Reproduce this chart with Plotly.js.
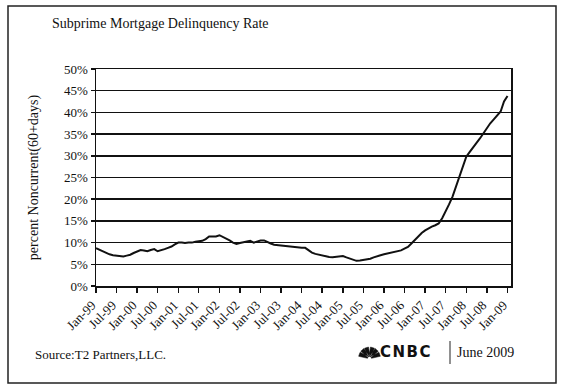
<!DOCTYPE html>
<html>
<head>
<meta charset="utf-8">
<script src="https://cdn.plot.ly/plotly-3.0.1.min.js"></script>
<style>
html,body{margin:0;padding:0;background:#fff;}
#chart{width:566px;height:391px;}
</style>
</head>
<body>
<div id="chart"></div>
<script>
// Monthly subprime delinquency rate (%), Jan-1999 .. Jan-2009
const startYear = 1999;
const rateValues = [
 8.7, 8.3, 7.9, 7.6, 7.3, 7.1, 7.0, 6.9, 6.8, 7.0, 7.2, 7.6,
 8.0, 8.3, 8.2, 8.0, 8.3, 8.5, 8.0, 8.2, 8.5, 8.8, 9.1, 9.6,
 10.0, 10.0, 9.9, 10.0, 10.0, 10.2, 10.3, 10.4, 10.8, 11.4, 11.4, 11.4,
 11.7, 11.3, 11.0, 10.5, 10.0, 9.7, 9.9, 10.1, 10.3, 10.4, 10.0, 10.2,
 10.5, 10.5, 10.1, 9.8, 9.5, 9.4, 9.3, 9.2, 9.1, 9.0, 8.9, 8.9,
 8.8, 8.8, 8.3, 7.7, 7.4, 7.2, 7.1, 6.9, 6.7, 6.6, 6.7, 6.8,
 6.9, 6.6, 6.3, 6.0, 5.8, 5.9, 6.0, 6.1, 6.3, 6.6, 6.9, 7.1,
 7.3, 7.5, 7.7, 7.9, 8.0, 8.2, 8.6, 9.0, 9.8, 10.6, 11.4, 12.2,
 12.8, 13.3, 13.7, 14.0, 14.4, 15.6, 17.1, 18.8, 20.6, 22.9, 25.2, 27.6,
 29.8, 30.9, 32.0, 33.0, 34.0, 35.2, 36.4, 37.5, 38.4, 39.3, 40.2, 42.5,
 43.8
];
const tickLabels = ["Jan-99","Jul-99","Jan-00","Jul-00","Jan-01","Jul-01","Jan-02","Jul-02",
 "Jan-03","Jul-03","Jan-04","Jul-04","Jan-05","Jul-05","Jan-06","Jul-06","Jan-07","Jul-07",
 "Jan-08","Jul-08","Jan-09"];
const yTickValues = [0,5,10,15,20,25,30,35,40,45,50];
const yTickLabels = ["0%","5%","10%","15%","20%","25%","30%","35%","40%","45%","50%"];

function monthDate(i){
  const y = startYear + Math.floor(i/12);
  const m = (i%12)+1;
  return y + "-" + (m<10?"0":"") + m + "-01";
}
const dates = rateValues.map((v,i)=>monthDate(i));
const tickVals = tickLabels.map((t,i)=>monthDate(i*6));

const serif = "Liberation Serif, Times New Roman, serif";

// pixel -> paper conversion for decorations
const L=96, R=511, T=69, B=286, W=566, H=391;
const px = x => (x-L)/(R-L);
const py = y => (B-y)/(B-T);

// peacock logo: fan of feathers (decoration only)
function peacockPath(){
  const cx=369.5, cy=358, r=11;
  const angles=[160,132,106,74,48,20];
  let p="";
  angles.forEach(a=>{
    const rad=a*Math.PI/180, w=0.19;
    const b1x=cx+2*Math.cos(rad-0.5), b1y=cy-2*Math.sin(rad-0.5);
    const b2x=cx+2*Math.cos(rad+0.5), b2y=cy-2*Math.sin(rad+0.5);
    const t1x=cx+r*Math.cos(rad-w), t1y=cy-r*Math.sin(rad-w);
    const t2x=cx+r*Math.cos(rad+w), t2y=cy-r*Math.sin(rad+w);
    p+="M "+px(b1x)+","+py(b1y)+" L "+px(t1x)+","+py(t1y)+" L "+px(t2x)+","+py(t2y)+" L "+px(b2x)+","+py(b2y)+" Z ";
  });
  return p;
}

const trace = {
  x: dates, y: rateValues, type: "scatter", mode: "lines",
  line: {color: "#111", width: 2}, hoverinfo: "skip"
};

const layout = {
  width: W, height: H,
  margin: {l: L, r: W-R, t: T, b: H-B, pad: 0},
  paper_bgcolor: "#fff", plot_bgcolor: "#fff",
  showlegend: false,
  font: {family: serif, color: "#111"},
  xaxis: {
    type: "date",
    range: ["1999-01-01", "2009-02-01"],
    tickmode: "array", tickvals: tickVals, ticktext: tickLabels,
    tickangle: -45, tickfont: {family: serif, size: 13, color: "#111"},
    ticklabelshift: -4,
    ticks: "outside", ticklen: 5, tickwidth: 1.5, tickcolor: "#111",
    showgrid: false, zeroline: false,
    showline: true, linecolor: "#111", linewidth: 1.5, mirror: true
  },
  yaxis: {
    range: [0, 50],
    tickmode: "array", tickvals: yTickValues, ticktext: yTickLabels,
    tickfont: {family: serif, size: 13, color: "#111"},
    ticks: "outside", ticklen: 4, tickwidth: 1.5, tickcolor: "#111",
    showgrid: true, gridcolor: "#111", gridwidth: 1.5,
    zeroline: false,
    showline: true, linecolor: "#111", linewidth: 1.5, mirror: true,
    title: {text: "percent Noncurrent(60+days)", font: {family: serif, size: 14, color: "#111"}, standoff: 22}
  },
  shapes: [
    {type: "rect", xref: "paper", yref: "paper",
     x0: px(8), x1: px(556), y0: py(383), y1: py(6),
     line: {color: "#222", width: 1.5}, fillcolor: "rgba(0,0,0,0)", layer: "above"},
    {type: "line", xref: "paper", yref: "paper",
     x0: px(450), x1: px(450), y0: py(364), y1: py(341),
     line: {color: "#222", width: 1}},
    {type: "path", xref: "paper", yref: "paper", path: peacockPath(),
     fillcolor: "#111", line: {color: "#111", width: 0.5}}
  ],
  annotations: [
    {text: "Subprime Mortgage Delinquency Rate", xref: "paper", yref: "paper",
     x: px(50), y: py(24), xanchor: "left", yanchor: "middle", showarrow: false,
     font: {family: serif, size: 14, color: "#111"}},
    {text: "Source:T2 Partners,LLC.", xref: "paper", yref: "paper",
     x: px(33), y: py(354), xanchor: "left", yanchor: "middle", showarrow: false,
     font: {family: serif, size: 13, color: "#111"}},
    {text: "<b><span style=\"letter-spacing:1.5px\">CNBC</span></b>", xref: "paper", yref: "paper",
     x: px(378), y: py(352), xanchor: "left", yanchor: "middle", showarrow: false,
     font: {family: "DejaVu Sans, Liberation Sans, sans-serif", size: 15, color: "#111"}},
    {text: "June 2009", xref: "paper", yref: "paper",
     x: px(455), y: py(352), xanchor: "left", yanchor: "middle", showarrow: false,
     font: {family: serif, size: 14, color: "#111"}}
  ]
};

Plotly.newPlot("chart", [trace], layout, {displayModeBar: false, staticPlot: true});
</script>
</body>
</html>
